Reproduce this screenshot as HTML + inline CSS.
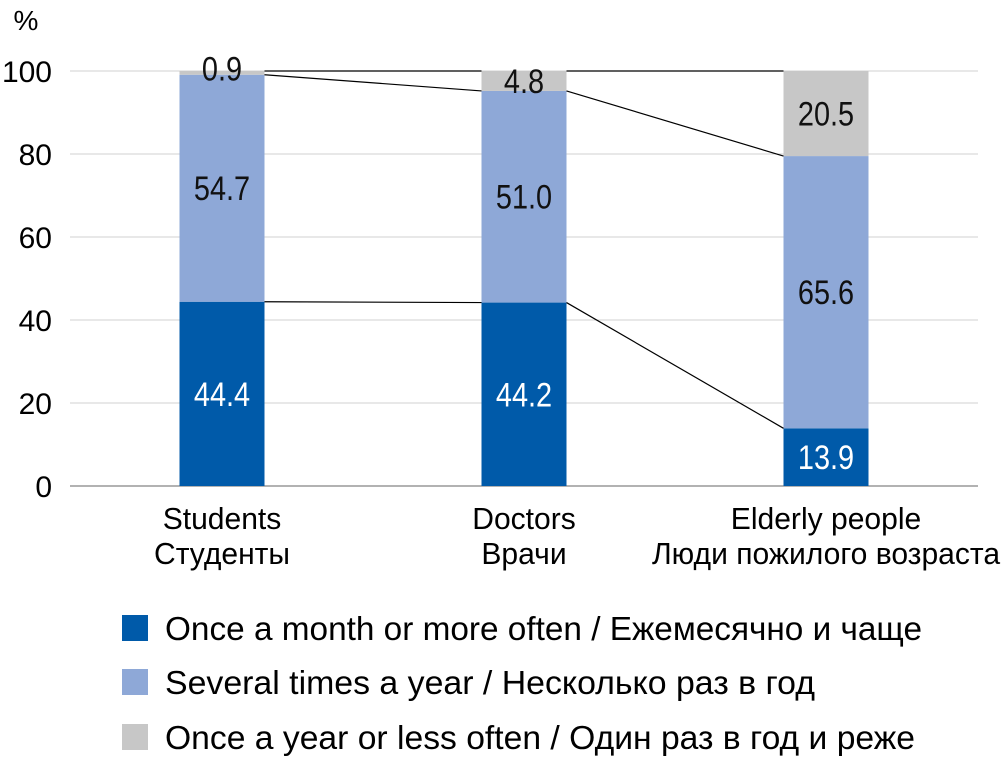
<!DOCTYPE html>
<html><head><meta charset="utf-8"><style>
body{margin:0;background:#fff;}
svg text{font-family:"Liberation Sans Narrow","Liberation Sans",sans-serif;}
</style></head><body>
<svg id="chart" width="1002" height="761">
<g id="grid"></g><g id="bars"></g><g id="conn"></g><g id="labels"></g>
<text x="26" y="30" font-size="28" text-anchor="middle" fill="#000">%</text>
<g id="legend">
<rect x="122" y="615" width="26" height="26" fill="#005aa9"/>
<text x="165" y="640" font-size="33" textLength="757" lengthAdjust="spacingAndGlyphs">Once a month or more often / Ежемесячно и чаще</text>
<rect x="122" y="669" width="26" height="26" fill="#8ea8d7"/>
<text x="165" y="694" font-size="33" textLength="650" lengthAdjust="spacingAndGlyphs">Several times a year / Несколько раз в год</text>
<rect x="122" y="724" width="26" height="26" fill="#c7c7c7"/>
<text x="165" y="749" font-size="33" textLength="750" lengthAdjust="spacingAndGlyphs">Once a year or less often / Один раз в год и реже</text>
</g>
</svg>
<script>
const categories=[["Students","Студенты"],["Doctors","Врачи"],["Elderly people","Люди пожилого возраста"]];
const monthly=[44.4,44.2,13.9];
const several=[54.7,51.0,65.6];
const yearly=[0.9,4.8,20.5];
const ticks=[0,20,40,60,80,100];
const colors=["#005aa9","#8ea8d7","#c7c7c7"];
const segNames=["monthly","several","yearly"];
const NS="http://www.w3.org/2000/svg";
const y=v=>486-v*4.15;
const xc=i=>222+i*302;
const bw=85;
function mk(parent,tag,attrs){const e=document.createElementNS(NS,tag);for(const k in attrs)e.setAttribute(k,attrs[k]);document.getElementById(parent).appendChild(e);return e;}
ticks.forEach(t=>{
 const l=mk("grid","line",{x1:70,x2:978,y1:y(t),y2:y(t),stroke:t===0?"#999":"#d0d0d0","stroke-width":t===0?1.5:1});
 
 
 const tx=mk("grid","text",{x:52,y:y(t)+11,"font-size":30,"text-anchor":"end"});tx.textContent=t;
 
 
});
const series=[monthly,several,yearly];
const tops=categories.map(()=>[]);
categories.forEach((c,i)=>{
 let base=0;
 series.forEach((s,k)=>{
  const v=s[i];
  const r=mk("bars","rect",{x:xc(i)-bw/2,y:y(base+v),width:bw,height:v*4.15,fill:colors[k]});
  
  
  const mid=(v<3)?base+v/2+1:base+v/2;
  const t=mk("labels","text",{transform:`translate(${xc(i)},${y(mid)+12}) scale(0.85,1)`,"font-size":34,"text-anchor":"middle",fill:k===0?"#fff":"#111"});
  t.textContent=v.toFixed(1);
  
  
  base+=v;tops[i].push(base);
 });
 c.forEach((ln,j)=>{const t=mk("labels","text",{transform:`translate(${xc(i)},${529+j*35}) scale(0.97,1)`,"font-size":31,"text-anchor":"middle"});t.textContent=ln;
  
  });
});
for(let i=0;i<categories.length-1;i++){
 [0,1,2].forEach(k=>{
  const a=tops[i][k],b=tops[i+1][k];
  const l=mk("conn","line",{x1:xc(i)+bw/2,y1:y(a),x2:xc(i+1)-bw/2,y2:y(b),stroke:"#000","stroke-width":1.2});
  
  
 });
}
</script>
</body></html>
